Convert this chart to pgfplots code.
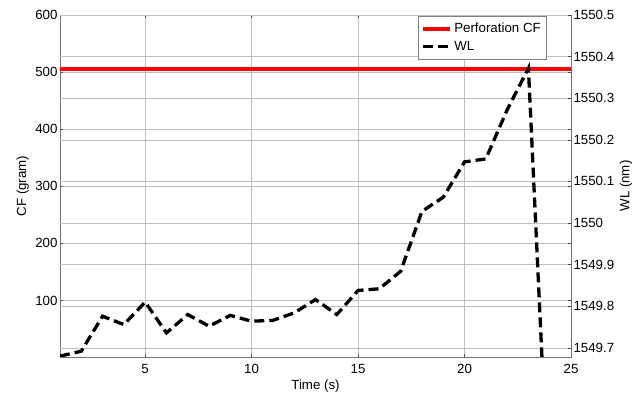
\documentclass[border=0pt]{standalone}
\usepackage{pgfplots}
\pgfplotsset{compat=1.18}
\usepackage{fontspec}
\setmainfont{Liberation Sans}
\begin{document}
\begin{tikzpicture}
\path[use as bounding box] (-60pt,-36pt) rectangle (578pt,357pt);
\pgfplotsset{
  every axis/.append style={font=\fontsize{13.3}{15}\selectfont},
  /pgf/number format/assume math mode=true,
  /pgf/number format/1000 sep={},
}
\begin{axis}[
  at={(0pt,0pt)}, anchor=south west,
  scale only axis, width=511pt, height=342pt,
  xmin=1, xmax=25, ymin=1, ymax=600,
  xtick={5,10,15,20,25}, ytick={100,200,300,400,500,600},
  scaled ticks=false,
  tick align=inside, major tick length=3pt,
  tick style={black!70, line width=0.5pt},
  grid=major, major grid style={black!25, line width=0.6pt},
  axis line style={black!55, line width=0.7pt},
  xticklabel style={yshift=-3.7pt},
  yticklabel style={xshift=1pt},
  xlabel={Time (s)}, ylabel={CF (gram)},
  xlabel style={at={(axis description cs:0.5,-0.0965)}, anchor=base},
  ylabel style={at={(axis description cs:-0.0665,0.5)}, anchor=base},
]
\addplot[red, line width=4pt] coordinates {(1,505) (25,505)};
\end{axis}
\begin{axis}[
  at={(0pt,0pt)}, anchor=south west,
  scale only axis, width=511pt, height=342pt,
  xmin=1, xmax=25, ymin=1549.678, ymax=1550.5,
  axis x line=none, axis y line*=right,
  ytick={1549.7,1549.8,1549.9,1550,1550.1,1550.2,1550.3,1550.4,1550.5},
  yticklabels={1549.7,1549.8,1549.9,1550,1550.1,1550.2,1550.3,1550.4,1550.5},
  scaled ticks=false,
  tick align=inside, major tick length=3pt,
  tick style={black!70, line width=0.5pt},
  yticklabel style={xshift=-1pt},
  ymajorgrids, major grid style={black!25, line width=0.6pt},
  axis line style={black!55, line width=0.7pt},
  ylabel={WL (nm)},
  ylabel style={at={(axis description cs:1.114,0.5)}, anchor=base},
  legend style={at={(axis description cs:0.951,0.997)}, anchor=north east,
    draw=black!50, fill=white, font=\fontsize{13.3}{15}\selectfont,
    row sep=3pt, inner xsep=3pt, inner ysep=5pt},
  legend cell align=left,
  legend image code/.code={\draw[#1] (0pt,0pt) -- (27pt,0pt);},
]
\addlegendimage{red, line width=4pt}
\addlegendentry{Perforation CF}
\addplot[black, line width=3.3pt, dash pattern=on 10pt off 5pt] table {
x y
1 1549.680
2 1549.692
3 1549.776
4 1549.756
5 1549.810
6 1549.736
7 1549.780
8 1549.752
9 1549.778
10 1549.764
11 1549.766
12 1549.784
13 1549.816
14 1549.780
15 1549.838
16 1549.842
17 1549.884
18 1550.028
19 1550.062
20 1550.147
21 1550.154
22 1550.272
23 1550.372
24 1549.280
};
\addlegendentry{WL}
\end{axis}
\end{tikzpicture}
\end{document}
